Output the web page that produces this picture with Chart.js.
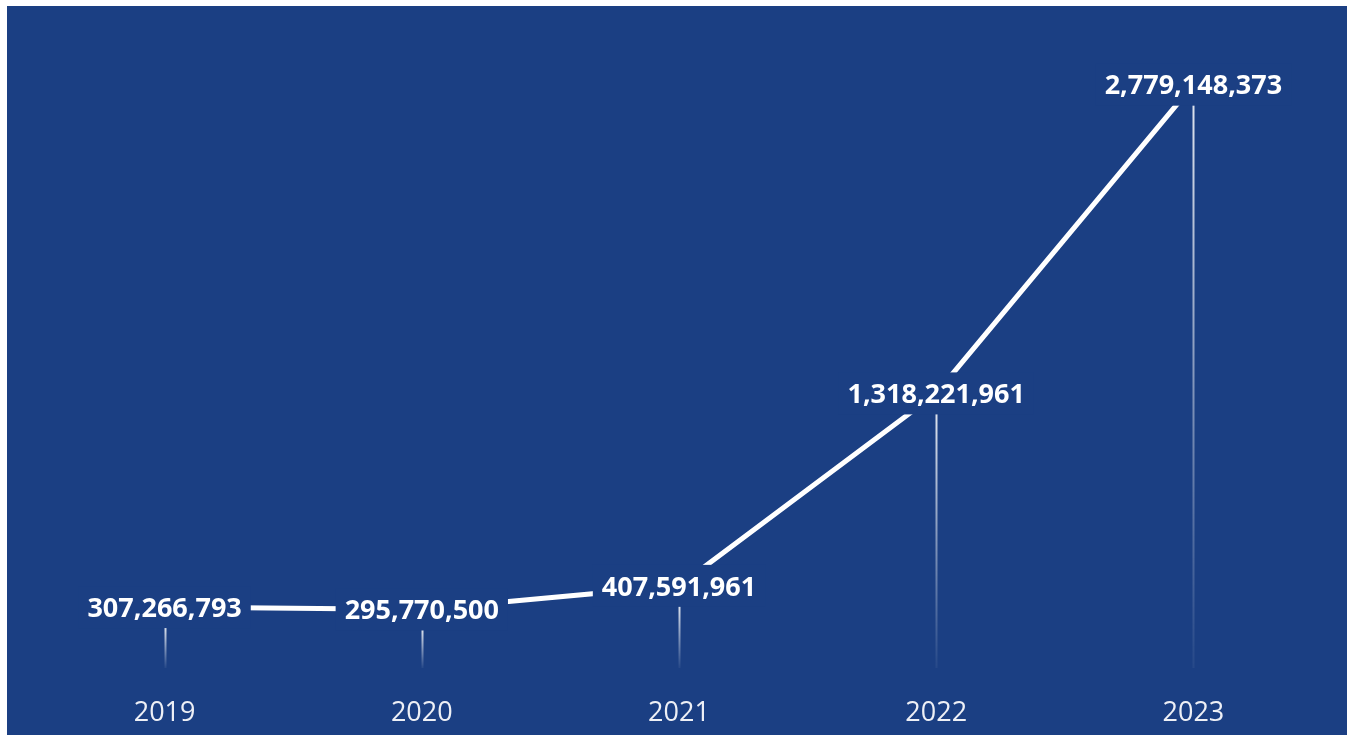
<!DOCTYPE html>
<html>
<head>
<meta charset="utf-8">
<script src="https://cdn.jsdelivr.net/npm/chart.js@4.4.1/dist/chart.umd.min.js"></script>
<style>
  html, body { margin: 0; padding: 0; background: #ffffff; }
  #wrap {
    position: absolute; left: 7px; top: 6px;
    width: 1340px; height: 729px;
    background: #1b3f83;
  }
</style>
</head>
<body>
<div id="wrap"><canvas id="chart"></canvas></div>
<script>
// Daten
const years = ['2019', '2020', '2021', '2022', '2023'];
const values = [307266793, 295770500, 407591961, 1318221961, 2779148373];
const yMin = 0;
const yMax = 3000000000;

const bgColor = '#1b3f83';
const labelFont = 'bold 27px "Open Sans", sans-serif';

// Fallinien vom Punkt zur Achse, nach unten ausblendend
const dropLines = {
    id: 'dropLines',
    beforeDatasetsDraw(chart) {
        const ctx = chart.ctx;
        const meta = chart.getDatasetMeta(0);
        const yZero = chart.scales.y.getPixelForValue(0);
        ctx.save();
        meta.data.forEach(pt => {
            const grad = ctx.createLinearGradient(0, pt.y + 20, 0, yZero - 4);
            grad.addColorStop(0, 'rgba(255,255,255,0.85)');
            grad.addColorStop(1, 'rgba(255,255,255,0.05)');
            ctx.strokeStyle = grad;
            ctx.lineWidth = 2;
            ctx.beginPath();
            ctx.moveTo(Math.round(pt.x) + 0.5, pt.y);
            ctx.lineTo(Math.round(pt.x) + 0.5, yZero - 4);
            ctx.stroke();
        });
        ctx.restore();
    }
};

// Datenbeschriftungen mit Hintergrundbox (verdeckt die Linie)
const valueLabels = {
    id: 'valueLabels',
    afterDatasetsDraw(chart) {
        const ctx = chart.ctx;
        const meta = chart.getDatasetMeta(0);
        ctx.save();
        ctx.font = labelFont;
        ctx.textAlign = 'center';
        ctx.textBaseline = 'middle';
        meta.data.forEach((pt, i) => {
            const text = values[i].toLocaleString('en-US');
            const w = ctx.measureText(text).width;
            ctx.fillStyle = bgColor;
            ctx.fillRect(pt.x - w / 2 - 9, pt.y - 21, w + 18, 42);
            ctx.fillStyle = '#ffffff';
            ctx.fillText(text, pt.x, pt.y + 2);
        });
        ctx.restore();
    }
};

new Chart(document.getElementById('chart'), {
    type: 'line',
    data: {
        labels: years,
        datasets: [{
            data: values,
            borderColor: '#ffffff',
            borderWidth: 5,
            tension: 0,
            pointRadius: 0,
            pointHoverRadius: 0,
            fill: false
        }]
    },
    options: {
        responsive: true,
        maintainAspectRatio: false,
        animation: false,
        events: [],
        layout: {
            padding: { left: 29, right: 25, top: 32, bottom: 0 }
        },
        plugins: {
            legend: { display: false },
            tooltip: { enabled: false }
        },
        scales: {
            x: {
                offset: true,
                grid: { display: false, drawTicks: false },
                border: { display: false },
                ticks: {
                    color: '#eef0f6',
                    padding: 25,
                    font: { size: 27, family: '"Open Sans", sans-serif' }
                },
                afterFit: scale => { scale.height = 63; }
            },
            y: {
                display: false,
                min: yMin,
                max: yMax
            }
        }
    },
    plugins: [dropLines, valueLabels]
});
</script>
</body>
</html>
